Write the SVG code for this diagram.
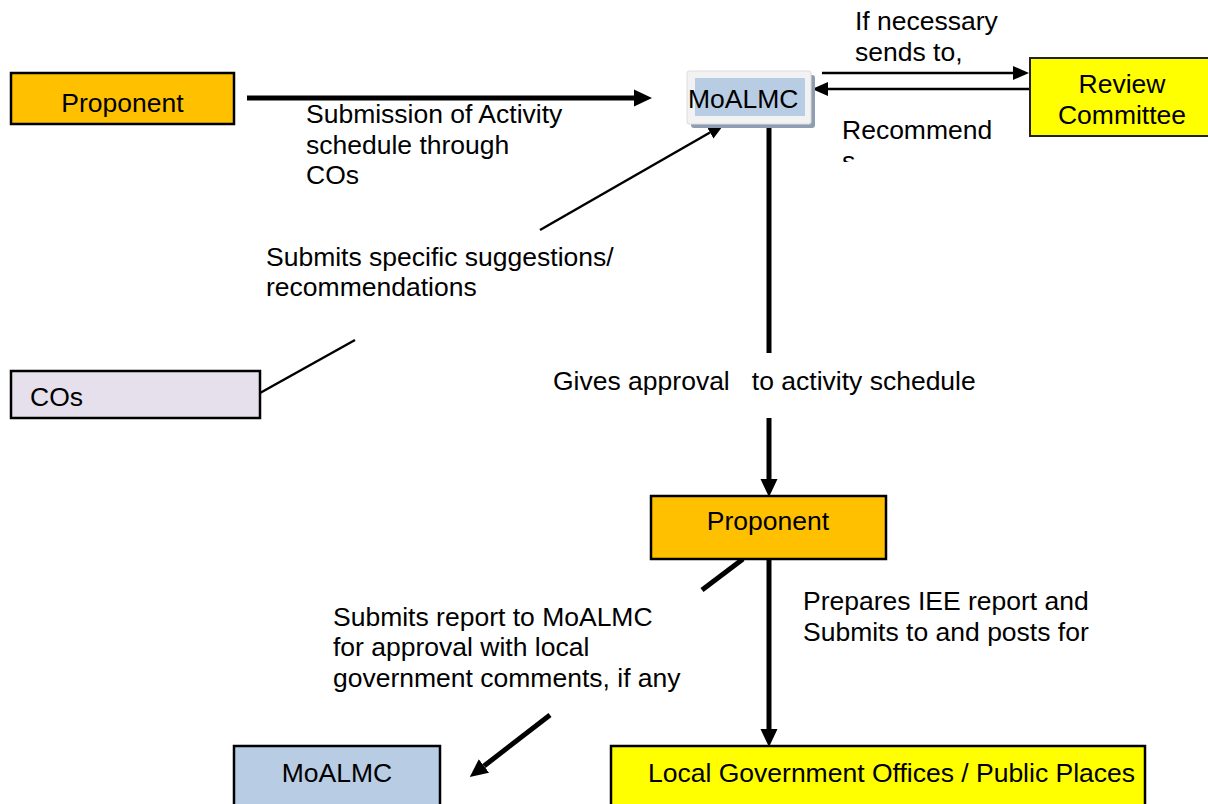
<svg xmlns="http://www.w3.org/2000/svg" width="1208" height="804" viewBox="0 0 1208 804">
<style>
text{font-family:"Liberation Sans",Arial,sans-serif;font-size:26.5px;fill:#000}
.box{stroke:#000;stroke-width:2.5}
.thick{stroke:#000;stroke-width:5;fill:none}
.thin{stroke:#000;stroke-width:2.5;fill:none}
</style>
<defs>
<marker id="ahT" markerUnits="userSpaceOnUse" viewBox="0 -9 19 18" refX="0" refY="0" markerWidth="19" markerHeight="18" orient="auto"><path d="M0,-8.5 L18,0 L0,8.5 z" fill="#000"/></marker>
<marker id="ahS" markerUnits="userSpaceOnUse" viewBox="0 -8 16 16" refX="0" refY="0" markerWidth="16" markerHeight="16" orient="auto"><path d="M0,-7 L16,0 L0,7 z" fill="#000"/></marker>
<clipPath id="cutS"><rect x="830" y="140" width="60" height="22"/></clipPath>
</defs>
<rect width="1208" height="804" fill="#fff"/>

<g id="connectors">
<path class="thick" d="M247,98 H634" marker-end="url(#ahT)"/>
<path class="thin" d="M822,73 H1013" marker-end="url(#ahS)"/>
<path class="thin" d="M1030,89 H828" marker-end="url(#ahS)"/>
<path class="thick" d="M769,127 V353"/>
<path class="thick" d="M769,418 V479" marker-end="url(#ahT)"/>
<path class="thick" d="M769,559 V729" marker-end="url(#ahT)"/>
<path class="thick" d="M743,559 L702,590"/>
<path class="thick" d="M550,715 L484,766" marker-end="url(#ahT)"/>
<path class="thin" d="M260,393 L355,340"/>
<path class="thin" d="M540,230 L710,132.5" marker-end="url(#ahS)"/>
</g>

<g id="labels">
<text x="306" y="123">Submission of Activity</text>
<text x="306" y="153.5">schedule through</text>
<text x="306" y="184">COs</text>
<text x="855" y="30">If necessary</text>
<text x="855" y="61">sends to,</text>
<text x="842" y="139">Recommend</text>
<text x="842" y="169.5" clip-path="url(#cutS)">s</text>
<text x="266" y="266">Submits specific suggestions/</text>
<text x="266" y="296">recommendations</text>
<text x="553" y="390" xml:space="preserve">Gives approval   to activity schedule</text>
<text x="803" y="610">Prepares IEE report and</text>
<text x="803" y="641">Submits to and posts for</text>
<text x="333" y="626">Submits report to MoALMC</text>
<text x="333" y="656">for approval with local</text>
<text x="333" y="687">government comments, if any</text>
</g>

<g id="proponent-top">
<rect class="box" x="11" y="73" width="223" height="51" fill="#FFC000"/>
<text x="122.5" y="112" text-anchor="middle">Proponent</text>
</g>

<g id="moalmc-top">
<rect x="691" y="75" width="124" height="53" rx="3" fill="#8e9db2"/>
<rect x="687" y="71" width="124" height="53" rx="2" fill="#f2f2f2" stroke="#dcdcdc" stroke-width="1"/>
<rect x="695" y="78" width="110" height="38" fill="#B8CCE4"/>
<text x="688" y="108">MoALMC</text>
</g>

<g id="review-committee">
<rect x="1030" y="58" width="190" height="78" fill="#FFFF00" stroke="#222" stroke-width="2"/>
<text x="1122" y="93" text-anchor="middle">Review</text>
<text x="1122" y="124" text-anchor="middle">Committee</text>
</g>

<g id="cos">
<rect class="box" x="11" y="371" width="249" height="47" fill="#E5E0EC"/>
<text x="30" y="406">COs</text>
</g>

<g id="proponent-mid">
<rect class="box" x="651" y="496" width="235" height="63" fill="#FFC000"/>
<text x="768" y="530" text-anchor="middle">Proponent</text>
</g>

<g id="moalmc-bottom">
<rect class="box" x="234" y="746" width="206" height="62" fill="#B8CCE4"/>
<text x="337" y="782" text-anchor="middle">MoALMC</text>
</g>

<g id="local-gov">
<rect class="box" x="611" y="746" width="534" height="62" fill="#FFFF00"/>
<text x="648" y="782">Local Government Offices / Public Places</text>
</g>
</svg>
